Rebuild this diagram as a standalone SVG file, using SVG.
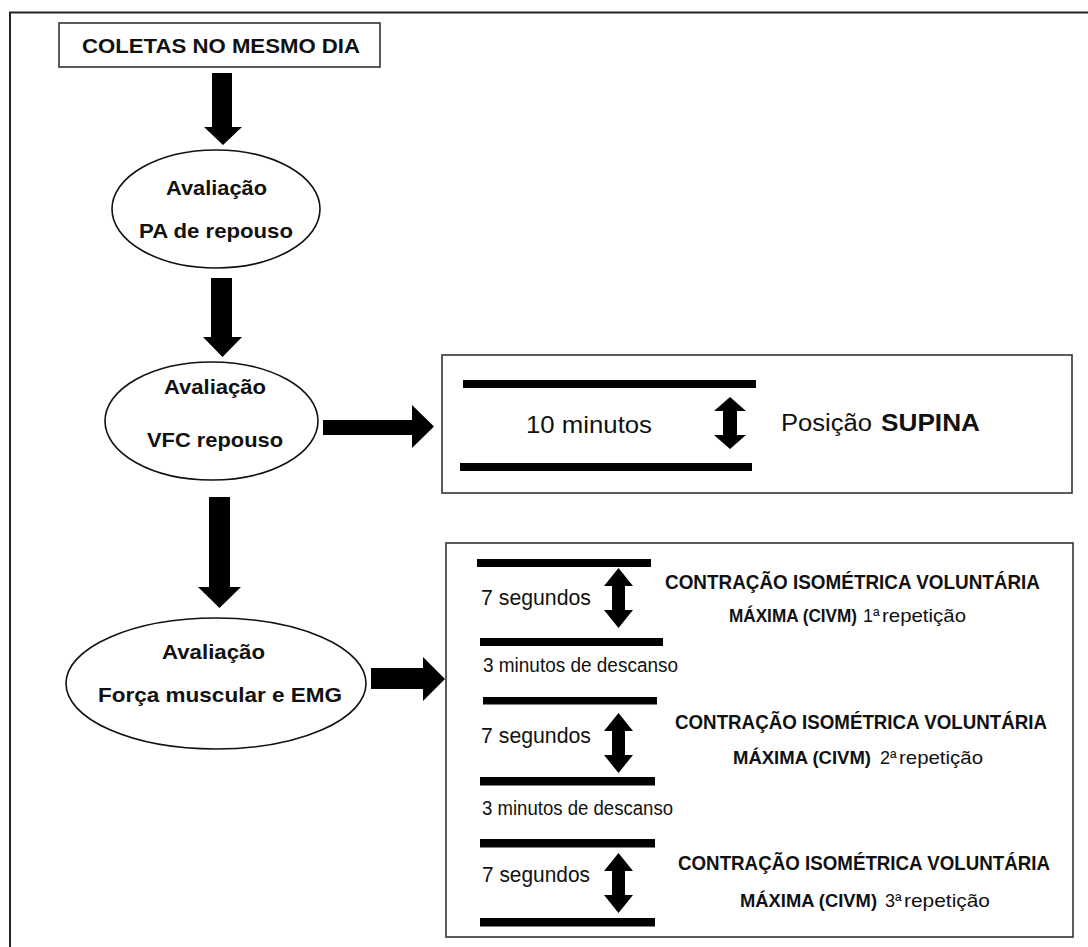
<svg xmlns="http://www.w3.org/2000/svg" xmlns:xlink="http://www.w3.org/1999/xlink" width="1088" height="947" viewBox="0 0 1088 947">
<style>
text{font-family:"Liberation Sans",Arial,sans-serif;fill:#111;}
.b{font-weight:bold;}
.box{fill:#fff;stroke:#333;stroke-width:1.6;}
.ell{fill:#fff;stroke:#111;stroke-width:1.6;}
.arr{fill:#000;}
.bar{fill:#000;}
.frame{stroke:#222;stroke-width:2;fill:none;}
</style>
<defs>
<path id="dbl1" d="M0,0 L16,14 L7,14 L7,38 L16,38 L0,52 L-16,38 L-7,38 L-7,14 L-16,14 Z"/>
<path id="dbl2" d="M0,0 L14.5,18 L6.5,18 L6.5,42 L14.5,42 L0,60 L-14.5,42 L-6.5,42 L-6.5,18 L-14.5,18 Z"/>
</defs>
<rect width="1088" height="947" fill="#fff"/>
<g id="frame">
<path class="frame" d="M10,947 L10,12.5 L1088,12.5"/>
</g>
<g id="connectors" class="arr">
<polygon points="212,73 232,73 232,127 242,127 223,145 204,127 212,127"/>
<polygon points="211,278 232,278 232,337 242,337 222.5,357 203,337 211,337"/>
<polygon points="209,497 230,497 230,587 241,587 219.5,608 198,587 209,587"/>
<polygon points="323,420 412,420 412,405 434,426.5 412,448 412,435 323,435"/>
<polygon points="371,668 423,668 423,657 445,679 423,701 423,689 371,689"/>
</g>
<g id="node-coletas">
<rect class="box" x="59" y="23" width="321" height="44"/>
<text class="b" x="82" y="53" font-size="21" textLength="278" lengthAdjust="spacingAndGlyphs">COLETAS NO MESMO DIA</text>
</g>
<g id="node-pa">
<ellipse class="ell" cx="216" cy="209" rx="104" ry="59"/>
<text class="b" x="166" y="195" font-size="21" textLength="101" lengthAdjust="spacingAndGlyphs">Avaliação</text>
<text class="b" x="139" y="238" font-size="21" textLength="154" lengthAdjust="spacingAndGlyphs">PA de repouso</text>
</g>
<g id="node-vfc">
<ellipse class="ell" cx="211.5" cy="421" rx="106.5" ry="59"/>
<text class="b" x="164" y="394" font-size="21" textLength="102" lengthAdjust="spacingAndGlyphs">Avaliação</text>
<text class="b" x="147" y="447" font-size="21" textLength="136" lengthAdjust="spacingAndGlyphs">VFC repouso</text>
</g>
<g id="node-forca">
<ellipse class="ell" cx="216" cy="683.5" rx="150" ry="65.5"/>
<text class="b" x="162" y="659" font-size="21" textLength="103" lengthAdjust="spacingAndGlyphs">Avaliação</text>
<text class="b" x="98" y="702" font-size="21" textLength="244" lengthAdjust="spacingAndGlyphs">Força muscular e EMG</text>
</g>
<g id="node-supina">
<rect class="box" x="442" y="355" width="630" height="138"/>
<rect class="bar" x="463" y="380" width="293" height="8"/>
<rect class="bar" x="460" y="463" width="292" height="8"/>
<text x="526" y="433" font-size="24" textLength="126" lengthAdjust="spacingAndGlyphs">10 minutos</text>
<use xlink:href="#dbl1" x="730" y="397"/>
<text x="781" y="431" font-size="23" textLength="91" lengthAdjust="spacingAndGlyphs">Posição</text>
<text class="b" x="881" y="431" font-size="23" textLength="99" lengthAdjust="spacingAndGlyphs">SUPINA</text>
</g>
<g id="node-civm">
<rect class="box" x="446" y="543" width="627" height="394"/>
<rect class="bar" x="477" y="559" width="174" height="8"/>
<rect class="bar" x="480" y="638" width="183" height="8"/>
<rect class="bar" x="483" y="697" width="174" height="7.5"/>
<rect class="bar" x="480" y="777" width="175" height="8.5"/>
<rect class="bar" x="480" y="839" width="175" height="8.5"/>
<rect class="bar" x="480" y="918" width="175" height="8.5"/>
<use xlink:href="#dbl2" x="618.5" y="568"/>
<use xlink:href="#dbl2" x="618.5" y="713"/>
<use xlink:href="#dbl2" x="618.5" y="853"/>
<text x="481" y="605" font-size="22" textLength="110" lengthAdjust="spacingAndGlyphs">7 segundos</text>
<text x="481" y="743" font-size="22" textLength="110" lengthAdjust="spacingAndGlyphs">7 segundos</text>
<text x="482" y="882" font-size="22" textLength="108" lengthAdjust="spacingAndGlyphs">7 segundos</text>
<text x="483" y="672" font-size="20" textLength="195" lengthAdjust="spacingAndGlyphs">3 minutos de descanso</text>
<text x="482" y="815" font-size="20" textLength="191" lengthAdjust="spacingAndGlyphs">3 minutos de descanso</text>
<text class="b" x="665" y="589" font-size="19.5" textLength="375" lengthAdjust="spacingAndGlyphs">CONTRAÇÃO ISOMÉTRICA VOLUNTÁRIA</text>
<text class="b" x="675" y="729" font-size="19.5" textLength="372" lengthAdjust="spacingAndGlyphs">CONTRAÇÃO ISOMÉTRICA VOLUNTÁRIA</text>
<text class="b" x="678" y="870" font-size="19.5" textLength="372" lengthAdjust="spacingAndGlyphs">CONTRAÇÃO ISOMÉTRICA VOLUNTÁRIA</text>
<text class="b" x="729" y="622" font-size="17.5" textLength="128" lengthAdjust="spacingAndGlyphs">MÁXIMA (CIVM)</text>
<text x="863" y="622" font-size="18">1ª</text>
<text x="882" y="622" font-size="19" textLength="84" lengthAdjust="spacingAndGlyphs">repetição</text>
<text class="b" x="733" y="764" font-size="18.5" textLength="138" lengthAdjust="spacingAndGlyphs">MÁXIMA (CIVM)</text>
<text x="880" y="764" font-size="18">2ª</text>
<text x="899" y="764" font-size="19" textLength="84" lengthAdjust="spacingAndGlyphs">repetição</text>
<text class="b" x="740" y="907" font-size="18.5" textLength="137" lengthAdjust="spacingAndGlyphs">MÁXIMA (CIVM)</text>
<text x="885" y="907" font-size="18">3ª</text>
<text x="904" y="907" font-size="19" textLength="86" lengthAdjust="spacingAndGlyphs">repetição</text>
</g>
</svg>
